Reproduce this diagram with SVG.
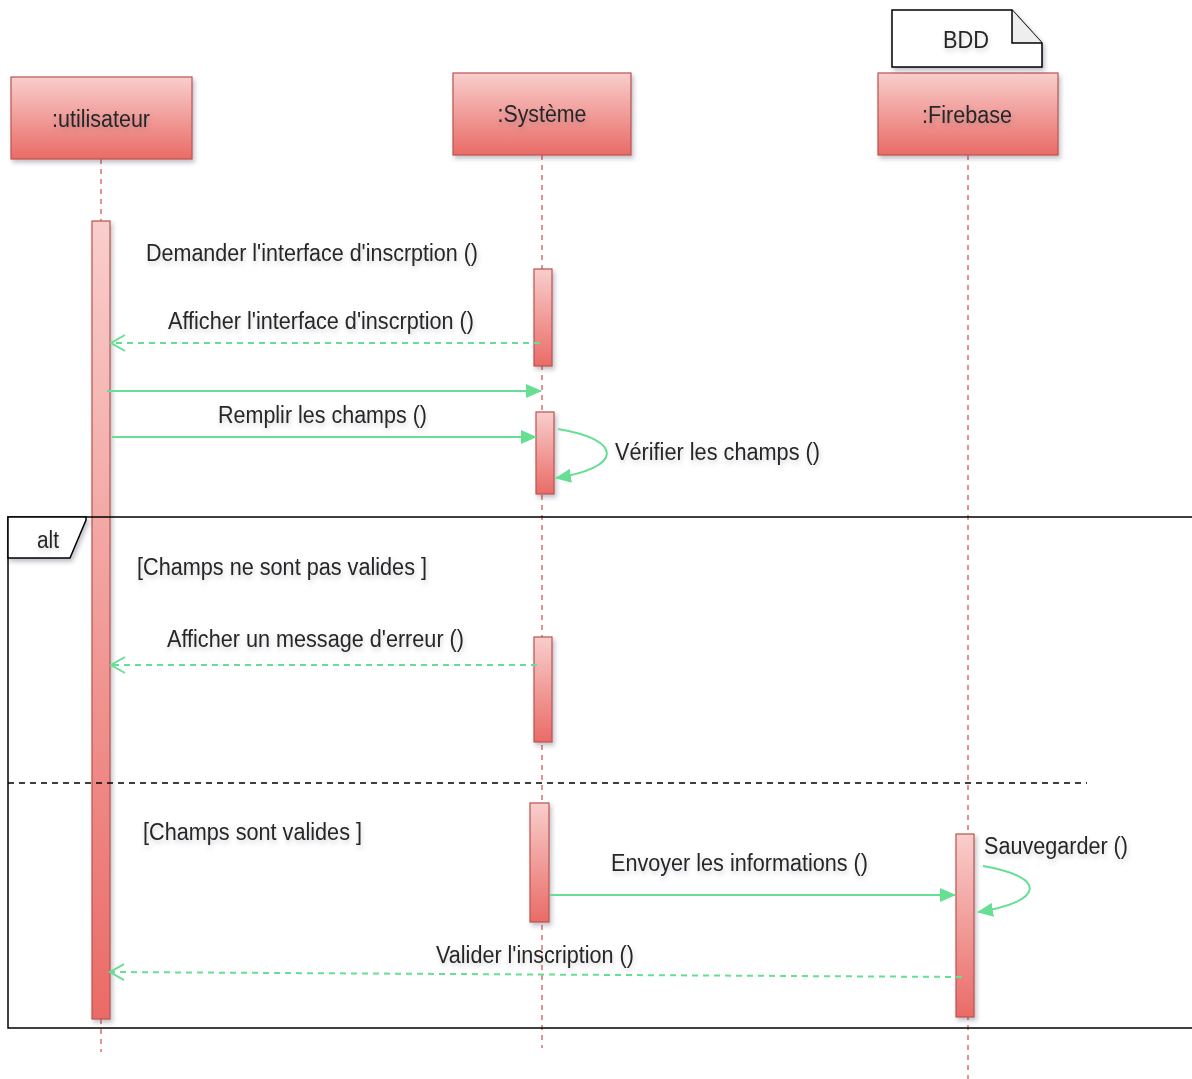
<svg xmlns="http://www.w3.org/2000/svg" width="1192" height="1079" viewBox="0 0 1192 1079">
<style>
.box{stroke:#b85450;stroke-width:1.2;fill:url(#red);filter:url(#sh)}
.act{stroke:#b85450;stroke-width:1.2;fill:url(#red);filter:url(#sh)}
.life{stroke:#d24b4b;stroke-width:1.2;stroke-dasharray:5,5;fill:none}
.msg{stroke:#66df94;stroke-width:2;fill:none}
.ret{stroke:#66df94;stroke-width:2;fill:none;stroke-dasharray:6,5}
.t{font-family:"Liberation Sans",Arial,sans-serif;font-size:23px;fill:#262626;filter:url(#tsh)}
.frame{stroke:#000;stroke-width:1.5;fill:none}
</style>
<defs>
<linearGradient id="red" x1="0" y1="0" x2="0" y2="1">
<stop offset="0" stop-color="#f8cecc"/>
<stop offset="1" stop-color="#ea6b66"/>
</linearGradient>
<filter id="sh" x="-20%" y="-20%" width="160%" height="160%">
<feDropShadow dx="2" dy="3" stdDeviation="2" flood-color="#334" flood-opacity="0.3"/>
</filter>
<filter id="tsh" x="-10%" y="-30%" width="120%" height="180%">
<feDropShadow dx="1" dy="3" stdDeviation="2" flood-color="#556" flood-opacity="0.25"/>
</filter>
<marker id="block" viewBox="0 0 16 14" refX="15" refY="7" markerWidth="16" markerHeight="14" markerUnits="userSpaceOnUse" orient="auto">
<path d="M0,0 L16,7 L0,14 Z" fill="#66df94"/>
</marker>
<marker id="open" viewBox="0 0 18 20" refX="16" refY="10" markerWidth="18" markerHeight="20" markerUnits="userSpaceOnUse" orient="auto">
<path d="M2,2 L16,10 L2,18" fill="none" stroke="#66df94" stroke-width="2"/>
</marker>
</defs>
<rect width="1192" height="1079" fill="#fff"/>

<g id="lifelines">
<line class="life" x1="101" y1="159" x2="101" y2="1052"/>
<line class="life" x1="542" y1="155" x2="542" y2="1048"/>
<line class="life" x1="968" y1="155" x2="968" y2="1079"/>
</g>

<g id="utilisateur">
<rect class="box" x="11" y="77" width="181" height="82"/>
<text class="t" x="101" y="127" text-anchor="middle" textLength="98" lengthAdjust="spacingAndGlyphs">:utilisateur</text>
</g>
<g id="systeme">
<rect class="box" x="453" y="73" width="178" height="82"/>
<text class="t" x="542" y="122" text-anchor="middle" textLength="89" lengthAdjust="spacingAndGlyphs">:Système</text>
</g>
<g id="firebase">
<rect class="box" x="878" y="73" width="180" height="82"/>
<text class="t" x="967" y="123" text-anchor="middle" textLength="90" lengthAdjust="spacingAndGlyphs">:Firebase</text>
</g>
<g id="bdd">
<path d="M892,10 L1012,10 L1042,43 L1042,67 L892,67 Z" fill="#fff" stroke="#000" stroke-width="1.5" filter="url(#sh)"/>
<path d="M1012,10 L1012,43 L1042,43" fill="#eee" stroke="#000" stroke-width="1.5"/>
<text class="t" x="966" y="48" text-anchor="middle" textLength="46" lengthAdjust="spacingAndGlyphs">BDD</text>
</g>

<g id="activations">
<rect class="act" x="92" y="221" width="18" height="798"/>
<rect class="act" x="534" y="269" width="18" height="97"/>
<rect class="act" x="536" y="412" width="18" height="82"/>
<rect class="act" x="534" y="637" width="18" height="105"/>
<rect class="act" x="530" y="803" width="19" height="119"/>
<rect class="act" x="956" y="834" width="18" height="183"/>
</g>

<g id="alt-frame">
<rect class="frame" x="8" y="517" width="1190" height="511"/>
<path d="M8,517 L86,517 L86,520 L70,558 L8,558 Z" fill="#fff" stroke="#000" stroke-width="1.5" filter="url(#sh)"/>
<text class="t" x="48" y="548" text-anchor="middle" textLength="22" lengthAdjust="spacingAndGlyphs">alt</text>
<line x1="8" y1="783" x2="1087" y2="783" stroke="#000" stroke-width="1.5" stroke-dasharray="6,5"/>
<text class="t" x="137" y="575" textLength="290" lengthAdjust="spacingAndGlyphs">[Champs ne sont pas valides ]</text>
<text class="t" x="143" y="840" textLength="219" lengthAdjust="spacingAndGlyphs">[Champs sont valides ]</text>
</g>

<g id="connectors">
<line class="msg" x1="107" y1="391" x2="541" y2="391" marker-end="url(#block)"/>
<line class="ret" x1="540" y1="343" x2="111" y2="343" marker-end="url(#open)"/>
<line class="msg" x1="112" y1="437" x2="536" y2="437" marker-end="url(#block)"/>
<path class="msg" d="M558,429 C625,440 622,468 556,478" marker-end="url(#block)"/>
<line class="ret" x1="537" y1="665" x2="111" y2="665" marker-end="url(#open)"/>
<line class="msg" x1="550" y1="895" x2="955" y2="895" marker-end="url(#block)"/>
<path class="msg" d="M983,866 C1048,877 1044,902 978,912" marker-end="url(#block)"/>
<line class="ret" x1="962" y1="977" x2="110" y2="972" marker-end="url(#open)"/>
</g>

<g id="labels">
<text class="t" x="146" y="261" textLength="332" lengthAdjust="spacingAndGlyphs">Demander l'interface d'inscrption ()</text>
<text class="t" x="168" y="329" textLength="306" lengthAdjust="spacingAndGlyphs">Afficher l'interface d'inscrption ()</text>
<text class="t" x="218" y="423" textLength="209" lengthAdjust="spacingAndGlyphs">Remplir les champs ()</text>
<text class="t" x="615" y="460" textLength="205" lengthAdjust="spacingAndGlyphs">Vérifier les champs ()</text>
<text class="t" x="167" y="647" textLength="297" lengthAdjust="spacingAndGlyphs">Afficher un message d'erreur ()</text>
<text class="t" x="611" y="871" textLength="257" lengthAdjust="spacingAndGlyphs">Envoyer les informations ()</text>
<text class="t" x="984" y="854" textLength="144" lengthAdjust="spacingAndGlyphs">Sauvegarder ()</text>
<text class="t" x="436" y="963" textLength="198" lengthAdjust="spacingAndGlyphs">Valider l'inscription ()</text>
</g>
</svg>
